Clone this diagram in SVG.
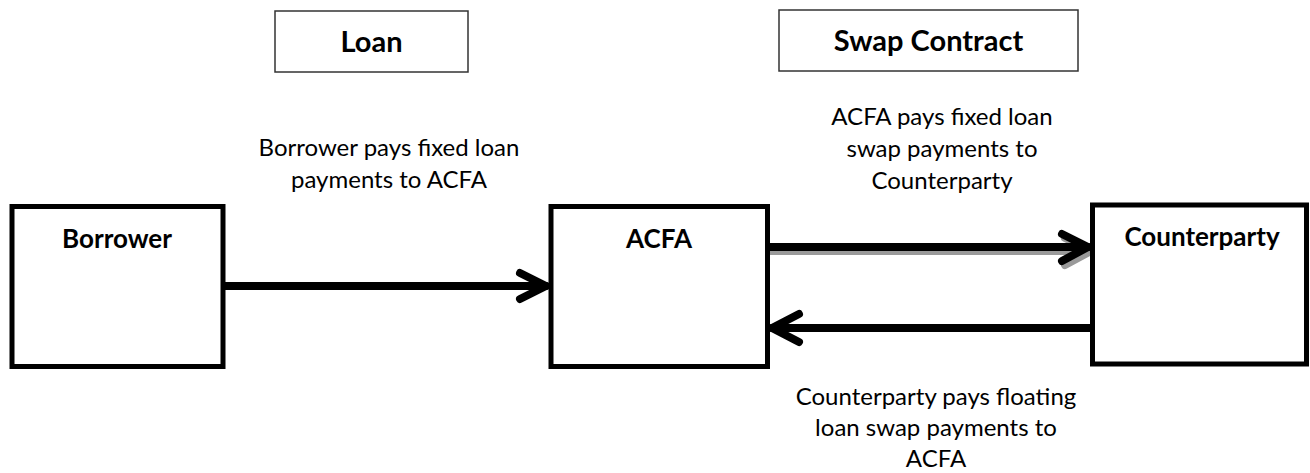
<svg xmlns="http://www.w3.org/2000/svg" width="1310" height="473" viewBox="0 0 1310 473">
<style>
.box{fill:#fff;stroke:#000;stroke-width:5}
.hdr{fill:#fff;stroke:#333;stroke-width:1.5}
.bt{font-family:Lato,"Liberation Sans",sans-serif;font-weight:bold;font-size:26px;fill:#000;text-anchor:middle}
.ht{font-family:Lato,"Liberation Sans",sans-serif;font-weight:bold;font-size:29px;fill:#000;text-anchor:middle}
.lt{font-family:Lato,"Liberation Sans",sans-serif;font-size:24px;fill:#000;text-anchor:middle}
.ln{fill:none;stroke:#000;stroke-width:8;stroke-linecap:round;stroke-linejoin:round}
.sh{fill:none;stroke:#9a9a9a;stroke-width:8;stroke-linecap:round;stroke-linejoin:round}
</style>
<rect width="1310" height="473" fill="#fff"/>
<g id="loan-header">
<rect class="hdr" x="275" y="11" width="193" height="61"/>
<text class="ht" x="371.5" y="51.5">Loan</text>
</g>
<g id="swap-header">
<rect class="hdr" x="779" y="10" width="299" height="61"/>
<text class="ht" x="928.5" y="51">Swap Contract</text>
</g>
<g id="connectors">
<g id="c-borrower-acfa">
<line class="ln" x1="225" y1="286" x2="546" y2="286" stroke-linecap="butt"/>
<polyline class="ln" points="520,273 546,286 520,299"/>
</g>
<g id="c-acfa-counterparty">
<line class="sh" x1="770" y1="251" x2="1088" y2="251" stroke-linecap="butt"/>
<polyline class="sh" points="1065,238 1091,251 1065,265"/>
<line class="ln" x1="770" y1="247" x2="1088" y2="247" stroke-linecap="butt"/>
<polyline class="ln" points="1062,234 1088,247 1062,261"/>
</g>
<g id="c-counterparty-acfa">
<line class="ln" x1="1090" y1="328" x2="772" y2="328" stroke-linecap="butt"/>
<polyline class="ln" points="799,314 772,328 799,342"/>
</g>
</g>
<g id="label-borrower-pays">
<text class="lt" x="389" y="156">Borrower pays fixed loan</text>
<text class="lt" x="389" y="188">payments to ACFA</text>
</g>
<g id="label-acfa-pays">
<text class="lt" x="942" y="125">ACFA pays fixed loan</text>
<text class="lt" x="942" y="157">swap payments to</text>
<text class="lt" x="942" y="189">Counterparty</text>
</g>
<g id="label-counterparty-pays">
<text class="lt" x="936" y="405">Counterparty pays floating</text>
<text class="lt" x="936" y="436">loan swap payments to</text>
<text class="lt" x="936" y="467">ACFA</text>
</g>
<g id="borrower">
<rect class="box" x="12" y="206.5" width="211" height="160"/>
<text class="bt" x="117" y="248">Borrower</text>
</g>
<g id="acfa">
<rect class="box" x="551" y="206.5" width="216.5" height="160"/>
<text class="bt" x="659" y="248">ACFA</text>
</g>
<g id="counterparty">
<rect class="box" x="1092.5" y="205" width="214" height="159"/>
<text class="bt" x="1202" y="246">Counterparty</text>
</g>
</svg>
